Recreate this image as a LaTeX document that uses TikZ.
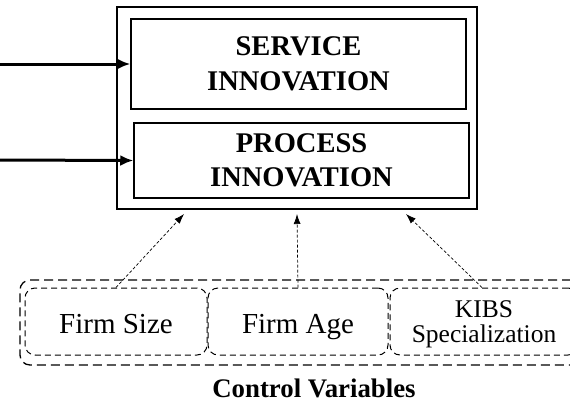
\documentclass[tikz,border=0pt]{standalone}
\usepackage{fontspec}
\setmainfont{Liberation Serif}
\usetikzlibrary{positioning}
\usetikzlibrary{arrows.meta}

\begin{document}
\begin{tikzpicture}[x=1pt, y=-1pt,
		innovbox/.style={draw, line width=1.5pt, minimum width=335pt, align=center,
			font=\fontsize{28.5}{34.5}\selectfont\bfseries},
		ctrlbox/.style={draw, rounded corners=10pt, line width=1pt,
			dash pattern=on 6pt off 4pt, minimum height=67pt, align=center,
			text height=23pt, text depth=0pt, font=\fontsize{29}{30}\selectfont},
		inarrow/.style={line width=3pt, -{Latex[length=13pt, width=11pt]}},
		ctrlarrow/.style={line width=0.7pt, dash pattern=on 3pt off 2pt,
			-{Latex[length=10pt, width=7pt]}}
		]
		
		\useasboundingbox (0,0) rectangle (570,405);
		\clip (0,0) rectangle (570,405);
		
		\node[draw, line width=2pt, minimum width=360pt, minimum height=202pt] (innov) at (297,108) {};
		\node[innovbox, minimum height=90pt] (service) at (298.5,64) {SERVICE\\INNOVATION};
		\node[innovbox, minimum height=75pt] (process) at (301.5,160.5) {PROCESS\\INNOVATION};
		
		\coordinate (inS) at (0,64);
		\coordinate (inP) at (0,160);
		\draw[inarrow] (inS) -- (service.west);
		\draw[inarrow] (inP) -- (process.west);
		
		\node[draw, rounded corners=10pt, line width=1.3pt, dash pattern=on 9pt off 5pt,
			minimum width=561pt, minimum height=85pt] (ctrl) at (300.5,322.5) {};
		\node[ctrlbox, minimum width=182pt] (size) at (116,321.5) {Firm Size};
		\node[ctrlbox, minimum width=180pt, right=0pt of size] (age) {Firm Age};
		\node[ctrlbox, minimum width=188pt, right=1pt of age,
			label={[anchor=center, align=center, yshift=-3pt, font=\fontsize{25.5}{25}\selectfont]center:KIBS\\Specialization}] (kibs) {};
		
		\node[font=\fontsize{26.8}{30}\selectfont\bfseries] (ctrlvars) at (314,388) {Control Variables};
		
		\draw[ctrlarrow] (size.north) -- ([xshift=68pt, yshift=-4pt]innov.south west);
		\draw[ctrlarrow] (age.north) -- ([yshift=-4pt]innov.south);
		\draw[ctrlarrow] ([xshift=-2pt]kibs.north) -- ([xshift=-72pt, yshift=-4pt]innov.south east);
	\end{tikzpicture}
\end{document}
